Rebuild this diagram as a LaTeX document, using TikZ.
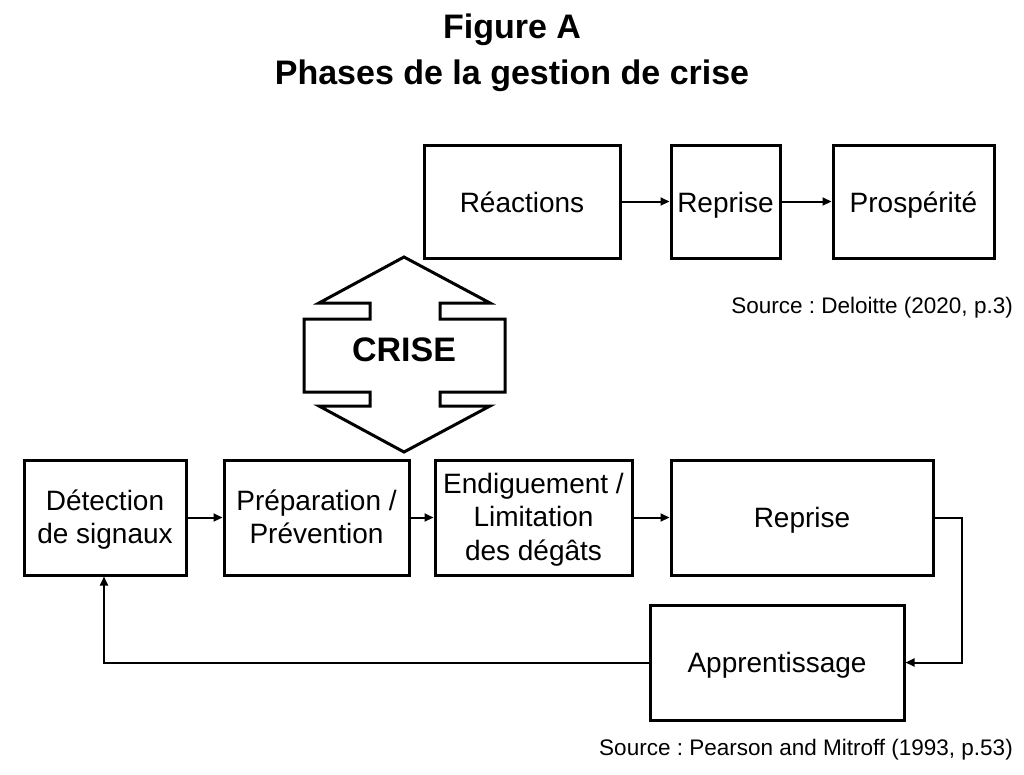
\documentclass[tikz,border=0pt]{standalone}
\usepackage{fontspec}
\setmainfont{Liberation Sans}
\frenchspacing
\usetikzlibrary{arrows.meta}
\newcommand\myH[1]{\rule{0pt}{#1pt}}
\newcommand\myD[1]{\rule[-#1pt]{0pt}{0pt}}
\begin{document}
\begin{tikzpicture}[x=1pt,y=-1pt,
  box/.style={draw,line width=3pt,inner sep=0pt,align=center,font=\fontsize{28}{33.7}\selectfont},
  conn/.style={line width=2pt,-{Triangle[length=9pt,width=8pt]}},
  src/.style={font=\fontsize{22.5}{26}\selectfont,anchor=east,inner sep=0pt}]
\useasboundingbox (0,0) rectangle (1024,774);
\node[font=\bfseries\fontsize{34}{38}\selectfont] (t1) at (512,29.5) {Figure A};
\node[font=\bfseries\fontsize{34}{38}\selectfont] (t2) at (512,76) {Phases de la gestion de crise};
% top row
\node[box,minimum width=196pt,minimum height=113pt] (rea) at (522,201.5) {\myH{27}Réactions\myD{6}};
\node[box,minimum width=109pt,minimum height=113pt] (rep1) at (725.5,201.5) {\myH{27}Reprise\myD{6}};
\node[box,minimum width=161pt,minimum height=113pt] (pros) at (913.5,201.5) {\myH{27}Prospérité\myD{6}};
\draw[conn] (rea) -- (rep1);
\draw[conn] (rep1) -- (pros);
\node[src] (s1) at (1013,308) {Source : Deloitte (2020, p.3)};
% crise shape
\draw[line width=3pt,line join=miter] (404,257) -- (490,303) -- (440,303) -- (440,319) -- (505,319) -- (505,392) -- (440,392) -- (440,406) -- (490,406) -- (404,452) -- (319,406) -- (370,406) -- (370,392) -- (304,392) -- (304,319) -- (370,319) -- (370,303) -- (319,303) -- cycle;
\node[font=\bfseries\fontsize{34}{38}\selectfont] (crise) at (404,350) {CRISE};
% bottom row
\node[box,minimum width=162pt,minimum height=115pt] (det) at (105,517.5) {\myH{26}Détection\\de signaux\myD{7}};
\node[box,minimum width=185pt,minimum height=115pt] (prep) at (316.5,517.5) {\myH{26}Préparation /\\Prévention\myD{7}};
\node[box,minimum width=197pt,minimum height=115pt] (end) at (533.5,517.5) {\myH{26}Endiguement /\\Limitation\\des dégâts\myD{7.6}};
\node[box,minimum width=262pt,minimum height=115pt] (rep2) at (802,517.5) {\myH{26}Reprise\myD{7}};
\node[box,minimum width=254pt,minimum height=115pt] (app) at (777,662.5) {\myH{26}Apprentissage\myD{7}};
\draw[conn] (det) -- (prep);
\draw[conn] (prep) -- (end);
\draw[conn] (end) -- (rep2);
\coordinate (c1) at (962,517.5);
\coordinate (c2) at (962,662.5);
\draw[conn] (rep2.east) -- (c1) -- (c2) -- (app.east);
\coordinate (c3) at (104,662.5);
\draw[conn] (app.west) -- (c3) -- (det.south -| c3);
\node[src] (s2) at (1013,750) {Source : Pearson and Mitroff (1993, p.53)};
\end{tikzpicture}
\end{document}
